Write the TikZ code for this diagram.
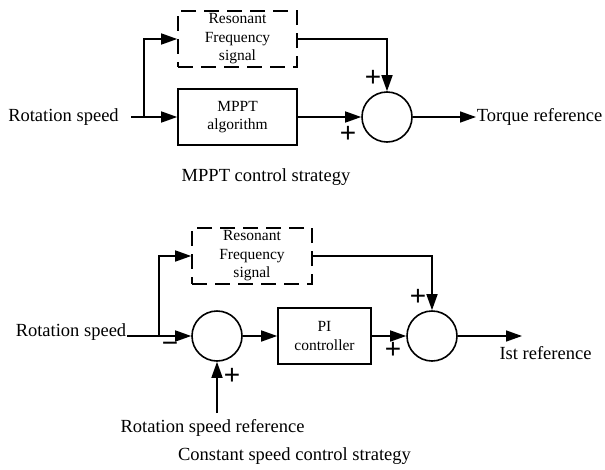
\documentclass[tikz,border=0pt]{standalone}
\usepackage{fontspec}
\setmainfont{Liberation Serif}
\newfontfamily\signfont{Liberation Sans}
\usetikzlibrary{arrows.meta}
\begin{document}
\begin{tikzpicture}[x=1pt,y=-1pt,
  line width=1.5pt,
  lbl/.style={font=\fontsize{18.5}{22}\selectfont, inner sep=0pt},
  blk/.style={draw, line width=1.6pt, inner sep=0pt, align=center,
    font=\fontsize{15.5}{18.5}\selectfont, minimum height=56pt},
  dblk/.style={blk, dash pattern=on 15pt off 8pt},
  sumj/.style={draw, circle, line width=1.6pt, minimum size=50pt, inner sep=0pt},
  sgn/.style={font=\signfont\fontsize{28}{28}\selectfont, inner sep=0pt},
  arr/.style={-{Triangle[length=16pt,width=11pt]}}]
\useasboundingbox (0,0) rectangle (605,469);

% ---------- MPPT control strategy ----------
\node[lbl] (rs1) at (63.5,117) {Rotation speed};
\coordinate (in1) at (131,117);
\coordinate (br1) at (144,117);
\node[dblk, minimum width=119pt] (rf1) at (237.5,39) {Resonant\\Frequency\\signal};
\node[blk, minimum width=119pt] (mppt) at (237.5,117) {MPPT\\algorithm};
\node[sumj] (s1) at (387,117) {};
\node[lbl, anchor=west] (tq) at (476,117) {Torque reference};

\draw[arr] (in1) -- (mppt.west);
\draw[arr] (br1) |- (rf1.west);
\draw[arr] (mppt.east) -- (s1.west);
\draw[arr] (rf1.east) -| (s1.north);
\draw[arr] (s1.east) -- (tq.west);

\node[sgn] (p1) at (373,78) {+};
\node[sgn] (p2) at (348,134) {+};
\node[lbl] (cap1) at (266,177) {MPPT control strategy};

% ---------- Constant speed control strategy ----------
\node[lbl] (rs2) at (71,332) {Rotation speed};
\coordinate (br2) at (159,336);
\node[dblk, minimum width=120pt] (rf2) at (252,256) {Resonant\\Frequency\\signal};
\node[sumj] (c1) at (217,336) {};
\node[blk, minimum width=93pt] (pi) at (324.5,336) {PI\\controller};
\node[sumj] (c2) at (432,336) {};
\coordinate (out2) at (522,336);
\node[lbl] (ist) at (545.5,353) {Ist reference};
\coordinate (ref) at (217,413);
\node[lbl] (rsr) at (212.5,428) {Rotation speed reference};

\draw[arr] (rs2.east |- c1.west) -- (c1.west);
\draw[arr] (br2) |- (rf2.west);
\draw[arr] (c1.east) -- (pi.west);
\draw[arr] (pi.east) -- (c2.west);
\draw[arr] (rf2.east) -| (c2.north);
\draw[arr] (c2.east) -- (out2);
\draw[arr] (ref) -- (c1.south);

\node[sgn] (m1) at (170,347) {−};
\node[sgn] (p3) at (232,376) {+};
\node[sgn] (p4) at (418,297) {+};
\node[sgn] (p5) at (393,350) {+};
\node[lbl] (cap2) at (294.5,456) {Constant speed control strategy};
\end{tikzpicture}
\end{document}
